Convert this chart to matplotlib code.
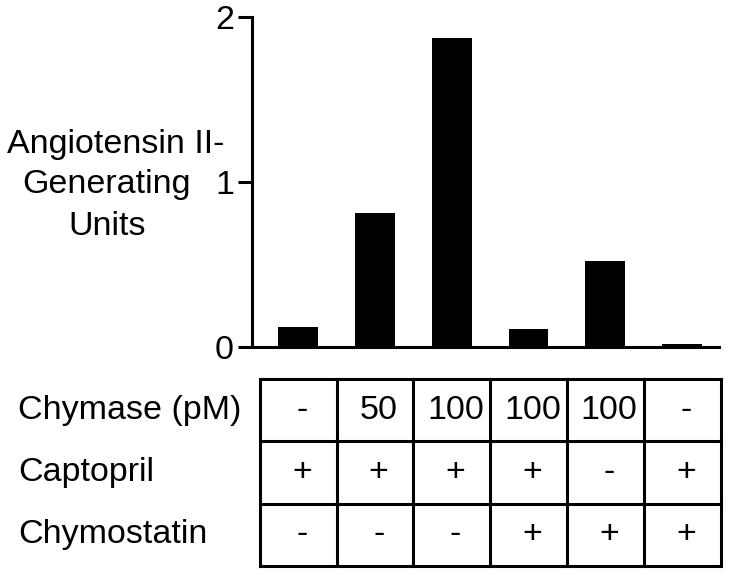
import matplotlib
matplotlib.use('Agg')
import matplotlib.pyplot as plt
from matplotlib.transforms import blended_transform_factory

# values
units = [0.12, 0.81, 1.87, 0.11, 0.52, 0.02]
row_labels = ['Chymase (pM)', 'Captopril', 'Chymostatin']
chymase = ['-', '50', '100', '100', '100', '-']
captopril = ['+', '+', '+', '+', '-', '+']
chymostatin = ['-', '-', '-', '+', '+', '+']
ylabel_lines = ['Angiotensin II-', 'Generating', 'Units']

plt.rcParams['font.family'] = ['Liberation Sans', 'DejaVu Sans']
fs = 24.5
lw = 2.2

fig = plt.figure(figsize=(7.29, 5.76), dpi=100)
ax = fig.add_axes([0.3457, 0.3976, 0.6406, 0.5729])
x = list(range(len(units)))
ax.bar(x, units, width=0.52, color='black')
ax.set_xlim(-0.6, 5.48)
ax.set_ylim(0, 2)
ax.set_yticks([0, 1, 2])
ax.tick_params(axis='y', labelsize=fs, length=10, width=lw, pad=3)
ax.set_xticks([])
for s in ['top', 'right']:
    ax.spines[s].set_visible(False)
for s in ['left', 'bottom']:
    ax.spines[s].set_linewidth(lw)
ax.spines['bottom'].set_clip_on(False)

# y label, one text per line
for line, xc, yb in zip(ylabel_lines, [116, 107, 107], [153, 193, 235]):
    fig.text(xc / 729, 1 - yb / 576, line, fontsize=fs, ha='center', va='baseline')

# table below the bars
tab = fig.add_axes([0.3457, 0.0174, 0.6406, 0.3247])
tab.set_xlim(-0.6, 5.48)
tab.set_ylim(0, 3)
tab.axis('off')
for i in range(len(units) + 1):
    tab.plot([i - 0.5, i - 0.5], [0, 3], color='black', lw=lw, clip_on=False,
             solid_capstyle='projecting')
for j in range(4):
    tab.plot([-0.5, 5.5], [j, j], color='black', lw=lw, clip_on=False,
             solid_capstyle='projecting')

rows = [chymase, captopril, chymostatin]
for r, vals in enumerate(rows):
    yc = 2.5 - r
    for i, v in enumerate(vals):
        tab.text(i + 0.05, yc, v, fontsize=fs, ha='center', va='center')

trans = blended_transform_factory(fig.transFigure, tab.transData)
for r, lab in enumerate(row_labels):
    tab.text(18 / 729, 2.5 - r, lab, fontsize=fs, ha='left', va='center',
             transform=trans)

plt.savefig('out.png', dpi=100)
